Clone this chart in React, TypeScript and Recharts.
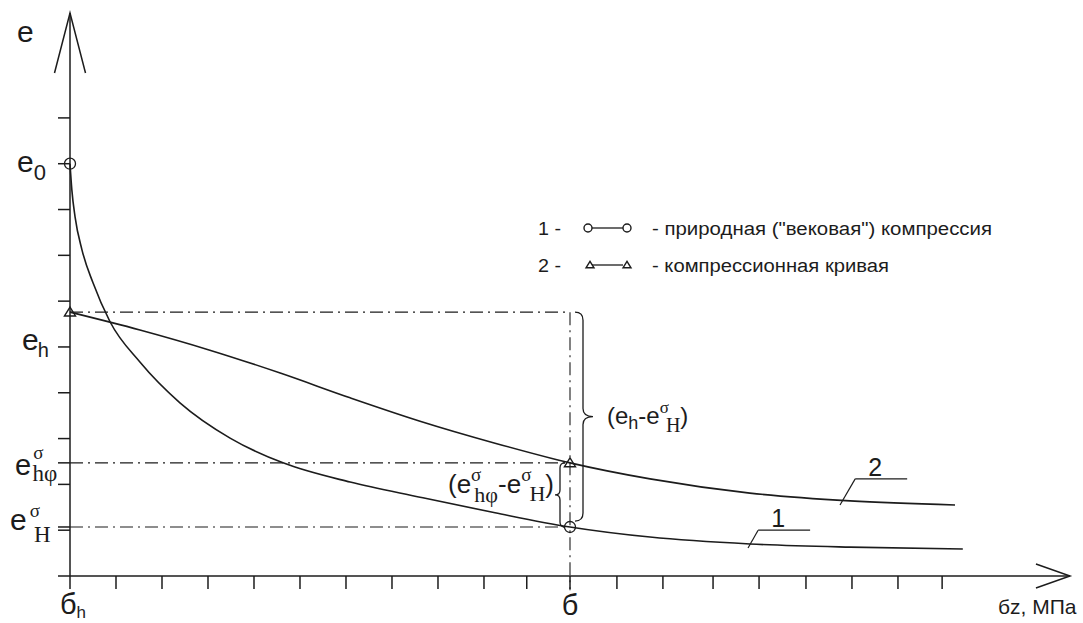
import React from "react";
import {
  ComposedChart,
  Line,
  Scatter,
  XAxis,
  YAxis,
  ReferenceLine,
  Legend,
} from "recharts";

// Axis units: one tick step on each axis.
const stressTicks = [0, 1, 2, 3, 4, 5, 6, 7, 8, 9, 9.93, 10.87, 11.89, 12.89, 13.98, 14.98, 16, 17, 18, 18.96];
const voidTicks = [0, 1, 2, 3, 4, 5, 6, 7, 8, 9, 10];

const SIGMA_H = 0;
const SIGMA = 10.87;
const E0 = 9;
const EH = 5;
const E_START = 5.76;
const E_HF = 2.47;
const E_HN = 1.07;

const X_MAX = 21.74;
const Y_MAX = 12.29;

// 1 - natural ("secular") compression
const naturalX = [0, 0.04, 0.11, 0.26, 0.5, 0.87, 1.52, 2.39, 3.48, 4.63, 6.09, 7.61, 9.24, 10.87, 12.61, 14.78, 16.96, 19.41];
const naturalE = [9.0, 8.43, 7.84, 7.12, 6.4, 5.55, 4.67, 3.78, 3.01, 2.47, 2.05, 1.72, 1.38, 1.07, 0.85, 0.7, 0.63, 0.59];

// 2 - compression curve
const compressionX = [0, 1.52, 3.04, 4.57, 6.09, 7.61, 9.24, 10.87, 12.61, 14.78, 16.96, 19.24];
const compressionE = [5.76, 5.37, 4.93, 4.43, 3.89, 3.38, 2.9, 2.47, 2.12, 1.81, 1.64, 1.55];

const naturalData = naturalX.map((x, i) => ({ x, e: naturalE[i] }));
const compressionData = compressionX.map((x, i) => ({ x, e: compressionE[i] }));
const circlePoints = [{ x: SIGMA_H, e: E0 }, { x: SIGMA, e: E_HN }];
const trianglePoints = [{ x: SIGMA_H, e: E_START }, { x: SIGMA, e: E_HF }];

const INK = "#1c1c1c";
const SANS = "'Liberation Sans', Arial, sans-serif";
const SERIF = "'Liberation Serif', 'Times New Roman', serif";
const DASH_DOT = "13 5 2 5";

type Piece = { t: string; size?: number; shift?: number; dx?: number; serif?: boolean };

function Formula({
  x,
  y,
  size,
  pieces,
  anchor = "start",
}: {
  x: number;
  y: number;
  size: number;
  pieces: Piece[];
  anchor?: "start" | "middle" | "end";
}) {
  let shift = 0;
  const spans = pieces.map((p, i) => {
    const target = p.shift ?? 0;
    const dy = target - shift;
    shift = target;
    return (
      <tspan
        key={i}
        dx={p.dx}
        dy={dy === 0 ? undefined : dy}
        fontSize={p.size ?? size}
        fontFamily={p.serif ? SERIF : SANS}
      >
        {p.t}
      </tspan>
    );
  });
  return (
    <text x={x} y={y} textAnchor={anchor} fill={INK}>
      {spans}
    </text>
  );
}

// y-axis captions, placed relative to the axis line
const yCaptions = new Map<number, { dx: number; dy: number; pieces: Piece[] }>([
  [E0, { dx: -53, dy: 8, pieces: [{ t: "e", size: 30 }, { t: "0", size: 22, shift: 8 }] }],
  [EH, { dx: -48, dy: 3, pieces: [{ t: "e", size: 30 }, { t: "h", size: 20, shift: 7, dx: -1 }] }],
  [
    E_HF,
    {
      dx: -55,
      dy: 12,
      pieces: [
        { t: "e", size: 29 },
        { t: "σ", size: 19, serif: true, shift: -16, dx: 2 },
        { t: "hφ", size: 23, serif: true, shift: 6, dx: -11 },
      ],
    },
  ],
  [
    E_HN,
    {
      dx: -60,
      dy: 3,
      pieces: [
        { t: "e", size: 30 },
        { t: "σ", size: 19, serif: true, shift: -13, dx: 3 },
        { t: "H", size: 23, serif: true, shift: 12, dx: -6 },
      ],
    },
  ],
]);

const yAxisTicks = [...voidTicks, E_HF, E_HN].sort((a, b) => a - b);

function YTick(props: any) {
  const { x, y, payload } = props;
  const cap = yCaptions.get(payload.value);
  if (!cap) return <g />;
  const axisX = x + 12;
  return <Formula x={axisX + cap.dx} y={y + cap.dy} size={30} pieces={cap.pieces} />;
}

function XTick(props: any) {
  const { x, y, payload } = props;
  if (payload.value === SIGMA_H) {
    return (
      <Formula
        x={x + 3}
        y={y + 25}
        size={29}
        anchor="middle"
        pieces={[{ t: "б" }, { t: "h", size: 17, shift: 4 }]}
      />
    );
  }
  if (payload.value === SIGMA) {
    return <Formula x={x} y={y + 26} size={29} anchor="middle" pieces={[{ t: "б" }]} />;
  }
  return <g />;
}

function ArrowHead(props: any) {
  const { x1, y1, x2, y2, half, caption, capDx, capDy } = props;
  const len = Math.hypot(x2 - x1, y2 - y1) || 1;
  const nx = -(y2 - y1) / len;
  const ny = (x2 - x1) / len;
  return (
    <g>
      <path
        d={`M ${x1 + nx * half} ${y1 + ny * half} L ${x2} ${y2} L ${x1 - nx * half} ${y1 - ny * half}`}
        fill="none"
        stroke={INK}
        strokeWidth={1.5}
      />
      <text x={x2 + capDx} y={y2 + capDy} fontFamily={SANS} fontSize={caption.size} fill={INK}>
        {caption.text}
      </text>
    </g>
  );
}

function Brace(props: any) {
  const { x1, y1, y2, side, gap, depth, r, pieces, capDx, capDy, anchor, size } = props;
  const top = Math.min(y1, y2);
  const bot = Math.max(y1, y2);
  const mid = (top + bot) / 2;
  const spine = x1 + side * gap;
  const tip = spine + side * depth;
  const hook = x1 + side * (gap - r);
  const d = [
    `M ${hook} ${top}`,
    `Q ${spine} ${top} ${spine} ${top + r}`,
    `L ${spine} ${mid - r}`,
    `Q ${spine} ${mid} ${tip} ${mid}`,
    `Q ${spine} ${mid} ${spine} ${mid + r}`,
    `L ${spine} ${bot - r}`,
    `Q ${spine} ${bot} ${hook} ${bot}`,
  ].join(" ");
  return (
    <g>
      <path d={d} fill="none" stroke={INK} strokeWidth={1.3} />
      <Formula x={tip + capDx} y={mid + capDy} size={size} anchor={anchor} pieces={pieces} />
    </g>
  );
}

function LeaderArm(props: any) {
  const { x1, y1, x2, y2, text } = props;
  return (
    <g>
      <line x1={x1} y1={y1} x2={x2} y2={y2} stroke={INK} strokeWidth={1.2} />
      <text x={x1 + 20} y={y1 - 3} textAnchor="middle" fontFamily={SANS} fontSize={25} fill={INK}>
        {text}
      </text>
    </g>
  );
}

const openCircle = (r: number) => (p: any) => (
  <circle cx={p.cx} cy={p.cy} r={r} fill="none" stroke={INK} strokeWidth={1.3} />
);

const openTriangle = (w: number) => (p: any) => (
  <path
    d={`M ${p.cx - w / 2} ${p.cy + w * 0.35} L ${p.cx} ${p.cy - w * 0.45} L ${p.cx + w / 2} ${p.cy + w * 0.35} Z`}
    fill="none"
    stroke={INK}
    strokeWidth={1.4}
  />
);

function LegendBox() {
  const rows = [
    { num: "1 -", text: "- природная (\"вековая\") компрессия", width: 340, marker: "circle" },
    { num: "2 -", text: "- компрессионная кривая", width: 237, marker: "triangle" },
  ];
  return (
    <svg width={480} height={80}>
      {rows.map((row, i) => {
        const base = 25 + i * 37;
        const my = base - 7;
        return (
          <g key={row.num}>
            <text x={10} y={base} fontFamily={SANS} fontSize={18} fill={INK} textLength={23} lengthAdjust="spacingAndGlyphs">
              {row.num}
            </text>
            <line x1={64} y1={my} x2={95} y2={my} stroke={INK} strokeWidth={1.3} />
            {row.marker === "circle" ? (
              <>
                <circle cx={60} cy={my} r={4} fill="none" stroke={INK} strokeWidth={1.4} />
                <circle cx={99} cy={my} r={4} fill="none" stroke={INK} strokeWidth={1.4} />
              </>
            ) : (
              <>
                {openTriangle(8)({ cx: 62, cy: my })}
                {openTriangle(8)({ cx: 99, cy: my })}
              </>
            )}
            <text
              x={124}
              y={base}
              fontFamily={SANS}
              fontSize={18}
              fill={INK}
              textLength={row.width}
              lengthAdjust="spacingAndGlyphs"
            >
              {row.text}
            </text>
          </g>
        );
      })}
    </svg>
  );
}

export default function App() {
  return (
    <div style={{ position: "absolute", left: 0, top: 0, background: "#fff" }}>
      <ComposedChart width={1083} height={623} margin={{ top: 13, right: 13, bottom: 0, left: 0 }}>
        <XAxis
          type="number"
          dataKey="x"
          domain={[0, X_MAX]}
          ticks={stressTicks}
          interval={0}
          height={47}
          tickSize={13}
          tickMargin={0}
          axisLine={{ stroke: INK, strokeWidth: 1.5 }}
          tickLine={{ stroke: INK, strokeWidth: 1.5 }}
          tick={<XTick />}
        />
        <YAxis
          type="number"
          domain={[0, Y_MAX]}
          ticks={yAxisTicks}
          interval={0}
          width={70}
          tickSize={12}
          tickMargin={0}
          axisLine={{ stroke: INK, strokeWidth: 1.5 }}
          tickLine={{ stroke: INK, strokeWidth: 1.5 }}
          tick={<YTick />}
        />
        <Legend
          layout="vertical"
          align="center"
          verticalAlign="middle"
          wrapperStyle={{ left: 528, top: 210, width: 480, height: 80 }}
          content={<LegendBox />}
        />

        {/* construction lines */}
        <ReferenceLine
          segment={[{ x: SIGMA_H, y: E_START }, { x: SIGMA, y: E_START }]}
          stroke={INK}
          strokeWidth={1.1}
          strokeDasharray={DASH_DOT}
          ifOverflow="visible"
        />
        <ReferenceLine
          segment={[{ x: SIGMA_H, y: E_HF }, { x: SIGMA, y: E_HF }]}
          stroke={INK}
          strokeWidth={1.1}
          strokeDasharray={DASH_DOT}
          ifOverflow="visible"
        />
        <ReferenceLine
          segment={[{ x: SIGMA_H, y: E_HN }, { x: SIGMA, y: E_HN }]}
          stroke={INK}
          strokeWidth={1.1}
          strokeDasharray={DASH_DOT}
          ifOverflow="visible"
        />
        <ReferenceLine
          segment={[{ x: SIGMA, y: E_START }, { x: SIGMA, y: -0.31 }]}
          stroke={INK}
          strokeWidth={1.1}
          strokeDasharray={DASH_DOT}
          ifOverflow="visible"
        />

        <Line
          data={naturalData}
          dataKey="e"
          type="monotone"
          stroke={INK}
          strokeWidth={1.6}
          dot={false}
          activeDot={false}
          isAnimationActive={false}
        />
        <Line
          data={compressionData}
          dataKey="e"
          type="monotone"
          stroke={INK}
          strokeWidth={1.6}
          dot={false}
          activeDot={false}
          isAnimationActive={false}
        />
        <Scatter data={circlePoints} dataKey="e" shape={openCircle(5.5)} isAnimationActive={false} />
        <Scatter data={trianglePoints} dataKey="e" shape={openTriangle(11)} isAnimationActive={false} />

        {/* braces */}
        <ReferenceLine
          segment={[{ x: SIGMA, y: E_START }, { x: SIGMA, y: 1.2 }]}
          ifOverflow="visible"
          shape={(p: any) => (
            <Brace
              {...p}
              side={1}
              gap={13}
              depth={10}
              r={8}
              capDx={14}
              capDy={7}
              size={24}
              anchor="start"
              pieces={[
                { t: "(e" },
                { t: "h", size: 18, shift: 5 },
                { t: "-e", shift: 0 },
                { t: "σ", size: 17, serif: true, shift: -11 },
                { t: "H", size: 20, serif: true, shift: 8, dx: -3 },
                { t: ")", shift: 0 },
              ]}
            />
          )}
        />
        <ReferenceLine
          segment={[{ x: SIGMA, y: E_HF }, { x: SIGMA, y: E_HN }]}
          ifOverflow="visible"
          shape={(p: any) => (
            <Brace
              {...p}
              side={-1}
              gap={10}
              depth={5}
              r={5}
              capDx={-1}
              capDy={-2}
              size={26}
              anchor="end"
              pieces={[
                { t: "(e" },
                { t: "σ", size: 19, serif: true, shift: -12 },
                { t: "hφ", size: 22, serif: true, shift: 9, dx: -7 },
                { t: "-e", shift: 0 },
                { t: "σ", size: 19, serif: true, shift: -12 },
                { t: "H", size: 22, serif: true, shift: 8, dx: -2 },
                { t: ")", shift: 0 },
              ]}
            />
          )}
        />

        {/* curve leaders */}
        <ReferenceLine
          segment={[{ x: 14.74, y: 0.61 }, { x: 14.96, y: 1.0 }]}
          stroke={INK}
          strokeWidth={1.2}
          ifOverflow="visible"
        />
        <ReferenceLine
          segment={[{ x: 14.96, y: 1.0 }, { x: 16.09, y: 1.0 }]}
          ifOverflow="visible"
          shape={(p: any) => <LeaderArm {...p} text="1" />}
        />
        <ReferenceLine
          segment={[{ x: 16.74, y: 1.55 }, { x: 17.07, y: 2.12 }]}
          stroke={INK}
          strokeWidth={1.2}
          ifOverflow="visible"
        />
        <ReferenceLine
          segment={[{ x: 17.07, y: 2.12 }, { x: 18.2, y: 2.12 }]}
          ifOverflow="visible"
          shape={(p: any) => <LeaderArm {...p} text="2" />}
        />

        {/* axis arrows */}
        <ReferenceLine
          segment={[{ x: 0, y: 10.98 }, { x: 0, y: Y_MAX }]}
          ifOverflow="visible"
          shape={(p: any) => (
            <ArrowHead {...p} half={15.5} caption={{ text: "e", size: 30 }} capDx={-53} capDy={29} />
          )}
        />
        <ReferenceLine
          segment={[{ x: 21.0, y: 0 }, { x: X_MAX, y: 0 }]}
          ifOverflow="visible"
          shape={(p: any) => (
            <ArrowHead {...p} half={12} caption={{ text: "бz, МПа", size: 21 }} capDx={-72} capDy={38} />
          )}
        />
      </ComposedChart>
    </div>
  );
}
